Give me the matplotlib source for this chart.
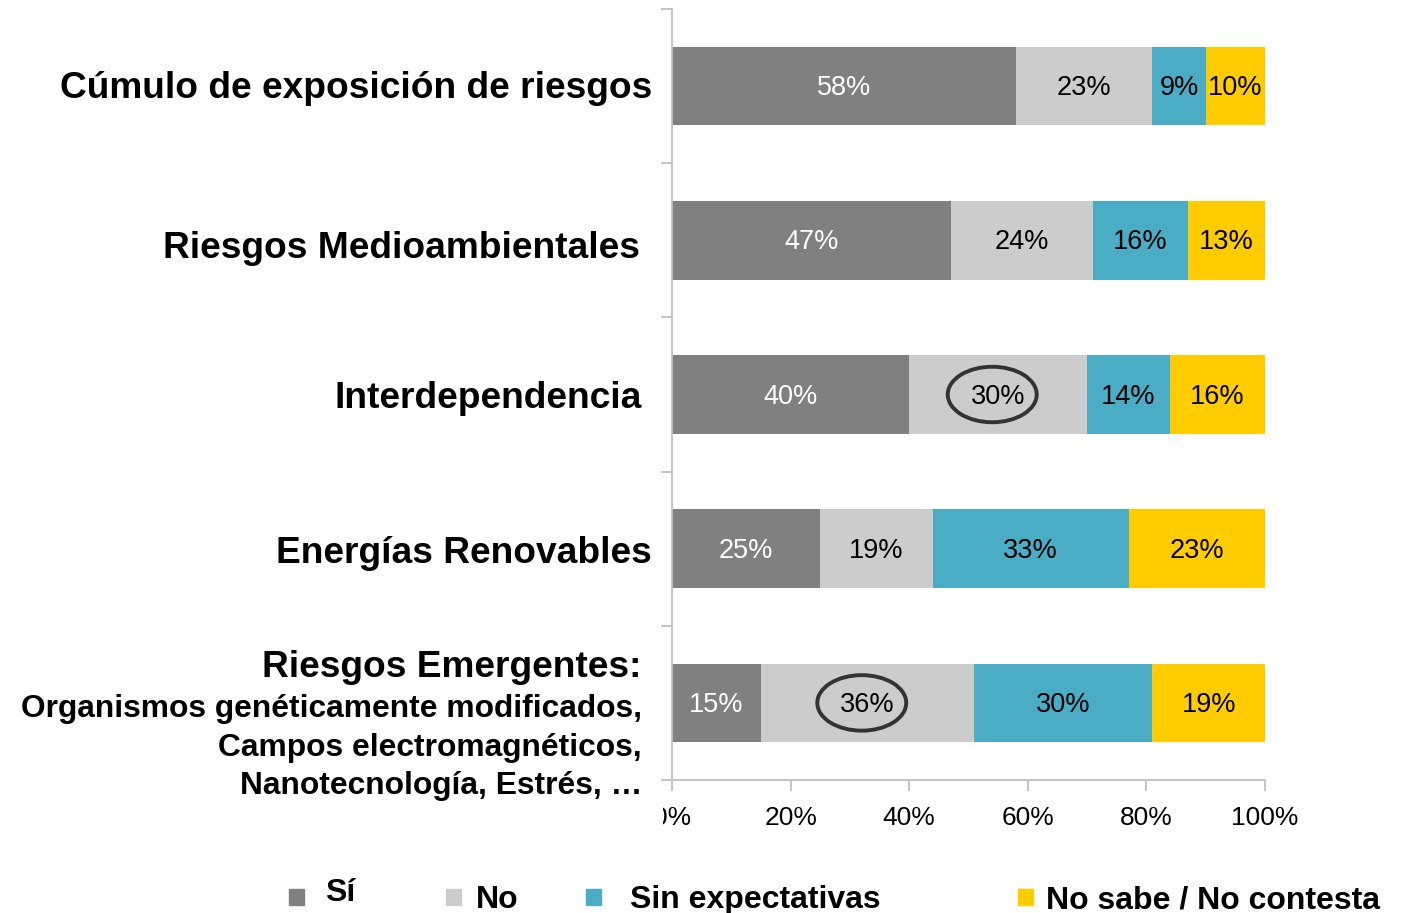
import matplotlib
matplotlib.use("Agg")
import matplotlib.pyplot as plt
from matplotlib.patches import Ellipse, Rectangle
from matplotlib.transforms import Bbox, offset_copy
import numpy as np

categories = ["Cúmulo de exposición de riesgos", "Riesgos Medioambientales",
              "Interdependencia", "Energías Renovables", "Riesgos Emergentes:"]
emergentes_sub = ["Organismos genéticamente modificados,",
                  "Campos electromagnéticos,",
                  "Nanotecnología, Estrés, …"]
series = ["Sí", "No", "Sin expectativas", "No sabe / No contesta"]
si = [58, 47, 40, 25, 15]
no = [23, 24, 30, 19, 36]
sin_exp = [9, 16, 14, 33, 30]
no_sabe = [10, 13, 16, 23, 19]
xticks = [0, 20, 40, 60, 80, 100]
xticklabels = ["0%", "20%", "40%", "60%", "80%", "100%"]
circled = [(2, 1), (4, 1)]  # (category index, series index)

colors = ["#808080", "#CCCCCC", "#4BACC6", "#FFCC00"]
text_colors = ["white", "black", "black", "black"]

W, H = 1405, 913
fig = plt.figure(figsize=(W / 100, H / 100), dpi=100)
ax = fig.add_axes([672 / W, 1 - 780 / H, (1265 - 672) / W, (780 - 9) / H])

txt_tr = offset_copy(ax.transData, fig=fig, x=0, y=-2, units="dots")
y = np.arange(len(categories))
left = np.zeros(len(categories))
for vals, c, tc in zip([si, no, sin_exp, no_sabe], colors, text_colors):
    vals = np.array(vals, dtype=float)
    ax.barh(y, vals, left=left, height=0.51, color=c, edgecolor="none")
    for yi, (l, v) in enumerate(zip(left, vals)):
        ax.text(l + v / 2, yi, f"{int(v)}%", ha="center", va="center",
                color=tc, fontsize=19.5, family="Liberation Sans",
                transform=txt_tr)
    left += vals

all_vals = [si, no, sin_exp, no_sabe]
for ci, si_idx in circled:
    start = sum(all_vals[k][ci] for k in range(si_idx))
    center = start + all_vals[si_idx][ci] / 2 - 1
    ax.add_patch(Ellipse((center, ci), 15, 0.36, fill=False,
                         edgecolor="#333333", linewidth=2.8, zorder=5))

ax.set_xlim(0, 100)
ax.set_ylim(len(categories) - 0.5, -0.5)
ax.set_xticks(xticks)
ax.set_xticklabels(xticklabels, family="Liberation Sans", fontsize=19)
ax.set_yticks(np.arange(-0.5, len(categories), 1.0))
ax.set_yticklabels([])
ax.tick_params(axis="both", direction="out", length=8, color="#BFBFBF", width=1.3)
ax.tick_params(axis="x", pad=11)
for s in ["top", "right"]:
    ax.spines[s].set_visible(False)
for s in ["left", "bottom"]:
    ax.spines[s].set_color("#BFBFBF")
    ax.spines[s].set_linewidth(1.3)

# clip the first tick label like the original
fig.canvas.draw()
lbl0 = ax.get_xticklabels()[0]
lbl0.set_clip_on(True)
lbl0.set_clip_box(Bbox.from_extents(663, 0, W, H))

# category labels
label_pos = [(652, 89), (640, 248), (642, 398), (652, 553), (642, 667)]
for name, (px, py) in zip(categories, label_pos):
    fig.text(px / W, 1 - py / H, name, ha="right", va="center",
             fontsize=26.7, fontweight="bold", family="Liberation Sans")
sub_pos = [(642, 709), (642, 748), (642, 786)]
for name, (px, py) in zip(emergentes_sub, sub_pos):
    fig.text(px / W, 1 - py / H, name, ha="right", va="center",
             fontsize=22.9, fontweight="bold", family="Liberation Sans")

# legend
leg_marker_x = [289, 446, 586, 1018]
leg_text_x = [325, 476, 630, 1046]
leg_y = [893, 900, 900, 900]
for name, c, mx, tx, ly in zip(series, colors, leg_marker_x, leg_text_x, leg_y):
    fig.patches.append(Rectangle((mx / W, 1 - 905 / H), 15 / W, 16 / H,
                                 transform=fig.transFigure, color=c))
    fig.text(tx / W, 1 - ly / H, name, ha="left", va="center",
             fontsize=23, fontweight="bold", family="Liberation Sans")

fig.savefig("out.png", dpi=100)
